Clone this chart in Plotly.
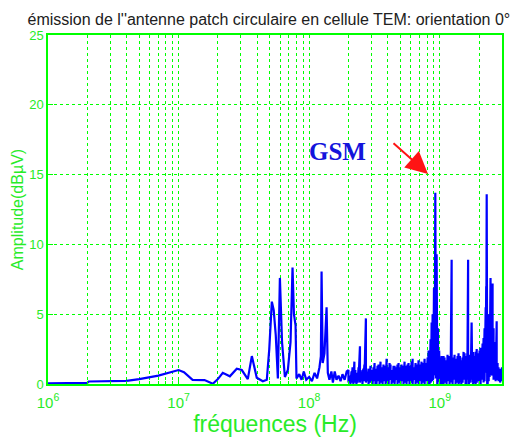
import plotly.graph_objects as go

# Smooth part of the spectrum (1 MHz - 200 MHz): frequency in MHz, amplitude in dBuV
low_freq_mhz = [1.0, 2.0, 2.05, 4.0, 5.0, 7.0, 10.0, 11.0, 12.8, 15.8, 18.3, 20.0, 21.8,
                24.7, 27.9, 30.5, 33.9, 36.4, 39.7, 44.2, 47.4, 49.5, 51.8, 53.5, 55.5,
                57.6, 59.7, 62.0, 65.2, 68.7, 72.0, 74.6, 76.5, 78.7, 80.0, 84.0, 87.5,
                91.0, 95.0, 100.0, 105.0, 110.0, 115.0, 120.0, 123.0, 124.5, 127.0,
                131.0, 136.0, 139.0, 143.0, 148.0, 152.0, 157.0, 162.0, 168.0, 174.0,
                180.0, 187.0, 194.0]
low_amp = [0.05, 0.08, 0.18, 0.22, 0.35, 0.6, 1.0, 0.85, 0.3, 0.28, 0.02, 0.35, 0.8,
           0.55, 1.1, 1.0, 0.35, 2.0, 0.45, 0.2, 0.3, 2.5, 5.9, 5.3, 3.5,
           0.4, 7.6, 3.0, 0.5, 1.0, 3.0, 8.35, 5.0, 4.2, 0.4, 0.7, 0.3,
           0.9, 0.3, 0.5, 0.2, 0.8, 0.4, 1.2, 2.0, 8.05, 1.5,
           2.2, 5.5, 0.8, 0.3, 0.9, 0.1, 0.9, 0.3, 0.6, 0.2,
           0.7, 0.3, 0.9]

# Dense part (200 MHz - 3 GHz): per frequency bin, max and min amplitude
bin_freq_mhz = [200, 204, 207, 211, 215, 218, 222, 226, 230, 235, 239, 245, 250, 256,
                260, 265, 272, 278, 285, 290, 295, 300, 306, 311, 317, 322, 328, 334,
                340, 346, 352, 358, 365, 371, 378, 385, 392, 399, 406, 413, 420, 428,
                435, 443, 451, 459, 467, 475, 484, 492, 501, 510, 519, 528, 538, 547,
                557, 567, 577, 587, 598, 609, 620, 631, 642, 653, 665, 677, 689, 701,
                713, 726, 739, 752, 766, 779, 793, 808, 822, 836, 851, 859, 867, 875,
                882, 893, 904, 915, 925, 936, 947, 958, 970, 980, 990, 1003, 1015,
                1025, 1035, 1044, 1052, 1070, 1089, 1108, 1128, 1148, 1169, 1190,
                1211, 1234, 1254, 1276, 1299, 1322, 1346, 1370, 1394, 1412, 1430,
                1463, 1496, 1523, 1550, 1577, 1605, 1627, 1650, 1675, 1700, 1727,
                1755, 1777, 1800, 1824, 1849, 1884, 1920, 1952, 1984, 2020, 2055,
                2092, 2129, 2167, 2205, 2250, 2270, 2290, 2310, 2330, 2370, 2410,
                2450, 2475, 2500, 2540, 2585, 2630, 2680, 2730, 2775, 2820, 2860,
                2900, 2950, 3000]
bin_max = [1.0, 0.5, 0.6, 0.9, 1.2, 0.7, 1.6, 1.0, 0.8, 0.6, 1.2, 2.7, 0.9, 1.0,
           1.1, 1.4, 4.7, 0.8, 1.1, 0.7, 1.3, 1.0, 0.9, 1.2, 1.5, 0.8, 1.1, 1.3,
           1.4, 0.9, 1.6, 1.2, 1.0, 1.4, 1.3, 1.0, 1.8, 1.1, 1.2, 1.5, 1.4, 0.9,
           1.0, 1.3, 1.3, 1.0, 1.2, 1.4, 1.5, 1.2, 1.1, 1.4, 1.3, 1.0, 1.6, 1.3,
           1.2, 1.4, 1.5, 1.1, 1.3, 1.6, 1.8, 1.2, 1.2, 1.5, 1.4, 1.2, 1.7, 1.4,
           1.3, 1.6, 1.5, 1.3, 1.8, 1.5, 1.4, 1.9, 2.4, 2.0, 3.2, 2.6, 4.4, 3.5,
           5.0, 4.0, 6.9, 5.5, 13.7, 7.0, 9.3, 3.0, 4.0, 2.0, 2.4, 1.7, 1.9,
           1.5, 2.0, 1.8, 1.6, 2.0, 1.9, 1.5, 1.7, 2.1, 2.0, 1.6,
           1.8, 8.9, 1.9, 1.7, 2.1, 1.6, 1.8, 2.0, 2.2, 1.8, 2.0,
           1.7, 1.9, 2.3, 2.2, 1.8, 2.0, 2.2, 8.9, 2.0, 2.1, 1.9,
           4.4, 2.0, 2.3, 1.8, 2.0, 2.3, 2.5, 1.9, 2.2, 2.4, 2.6,
           2.2, 2.9, 3.3, 4.0, 5.5, 7.0, 13.6, 5.0, 3.0, 5.0, 4.0,
           7.6, 4.5, 5.0, 7.2, 4.0, 3.0, 2.2, 4.5, 1.5, 1.2, 1.0,
           1.1, 0.9, 1.2]
bin_min = [0.1, 0.2, 0.0, 0.1, 0.2, 0.0, 0.1, 0.3, 0.0, 0.1, 0.3, 0.1, 0.2, 0.0,
           0.3, 0.2, 0.1, 0.2, 0.0, 0.1, 0.3, 0.1, 0.0, 0.3, 0.2, 0.0, 0.0, 0.2,
           0.3, 0.0, 0.1, 0.2, 0.0, 0.2, 0.4, 0.0, 0.1, 0.2, 0.0, 0.3, 0.3, 0.0,
           0.1, 0.2, 0.0, 0.3, 0.4, 0.0, 0.1, 0.3, 0.0, 0.2, 0.3, 0.0, 0.1, 0.3,
           0.0, 0.2, 0.4, 0.0, 0.1, 0.2, 0.0, 0.3, 0.3, 0.0, 0.1, 0.3, 0.0, 0.2,
           0.4, 0.0, 0.1, 0.3, 0.0, 0.2, 0.3, 0.0, 0.2, 0.0, 0.1, 0.3, 0.5, 0.2,
           0.3, 0.4, 0.8, 0.6, 1.0, 0.4, 0.6, 0.0, 0.2, 0.3, 0.1, 0.0, 0.3,
           0.1, 0.0, 0.2, 0.4, 0.0, 0.1, 0.3, 0.0, 0.2, 0.5, 0.0,
           0.1, 0.2, 0.0, 0.3, 0.4, 0.0, 0.1, 0.3, 0.0, 0.2, 0.5,
           0.0, 0.1, 0.3, 0.3, 0.0, 0.0, 0.4, 0.3, 0.0, 0.1, 0.3,
           0.4, 0.1, 0.0, 0.2, 0.5, 0.0, 0.1, 0.2, 0.3, 0.0, 0.0,
           0.3, 0.4, 0.1, 0.2, 0.8, 1.0, 1.0, 0.0, 0.0, 0.2, 0.5,
           1.0, 0.6, 0.8, 0.6, 0.3, 0.3, 0.2, 0.5, 0.3, 0.2, 0.4,
           0.1, 0.3, 0.2]

# Axis tick labels
major_ticks = [1e6, 1e7, 1e8, 1e9]
major_labels = ["10<sup>6</sup>", "10<sup>7</sup>", "10<sup>8</sup>", "10<sup>9</sup>"]
minor_ticks = [m * 10 ** e for e in range(6, 10) for m in range(2, 10) if m * 10 ** e <= 3e9]

# Assemble the trace: smooth section, then each bin drawn from its max to its min
freq_hz = [f * 1e6 for f in low_freq_mhz]
amp = list(low_amp)
for f, hi, lo in zip(bin_freq_mhz, bin_max, bin_min):
    freq_hz += [f * 1e6, f * 1e6]
    amp += [hi, lo]

GREEN = "rgb(0,255,0)"
TEXT_GREEN = "rgb(40,235,40)"
DASH = "3px,3px"

fig = go.Figure()
fig.add_trace(go.Scatter(x=freq_hz, y=amp, mode="lines",
                         line=dict(color="rgb(0,0,255)", width=2.2),
                         showlegend=False, hoverinfo="skip"))

fig.update_layout(
    width=519, height=444,
    margin=dict(l=48, r=17, t=35, b=55),
    paper_bgcolor="white", plot_bgcolor="white",
    font=dict(family="Liberation Sans, Arial, sans-serif", color=TEXT_GREEN),
    title=dict(text="émission de l''antenne patch circulaire en cellule TEM: orientation 0°",
               x=0.518, xanchor="center", y=0.957, yanchor="middle",
               font=dict(size=16, color="#202020")),
)

fig.update_xaxes(
    type="log", range=[6, 9.477],
    tickvals=major_ticks, ticktext=major_labels,
    tickfont=dict(size=15, color=TEXT_GREEN), ticklabelstandoff=4,
    ticks="inside", ticklen=5, tickcolor=GREEN,
    showline=True, linecolor=GREEN, linewidth=1.5, mirror=True,
    showgrid=True, gridcolor=GREEN, griddash=DASH, gridwidth=1,
    minor=dict(tickvals=minor_ticks, ticks="inside", ticklen=3, tickcolor=GREEN,
               showgrid=True, gridcolor=GREEN, griddash=DASH, gridwidth=1),
    zeroline=False,
    title=dict(text="fréquences (Hz)", font=dict(size=23, color=TEXT_GREEN), standoff=5),
)
fig.update_yaxes(
    range=[0, 25], dtick=5,
    tickfont=dict(size=13, color=TEXT_GREEN),
    ticks="inside", ticklen=5, tickcolor=GREEN,
    showline=True, linecolor=GREEN, linewidth=1.5, mirror=True,
    showgrid=True, gridcolor=GREEN, griddash=DASH, gridwidth=1,
    zeroline=False,
    title=dict(text="Amplitude(dBµV)", font=dict(size=16, color=TEXT_GREEN), standoff=2),
)

# GSM marker text and red arrow pointing at the GSM line
fig.add_annotation(xref="paper", yref="paper", x=0.705, y=0.71,
                   text="<b>GSM</b>", showarrow=False,
                   font=dict(family="Liberation Serif, Times New Roman, serif",
                             size=25, color="rgb(20,20,220)"))
fig.add_annotation(xref="paper", yref="paper", x=0.837, y=0.602,
                   ax=-36, ay=-32, text="", showarrow=True,
                   arrowhead=2, arrowsize=2.2, arrowwidth=2, arrowcolor="rgb(255,20,20)")

fig.write_html("out.html")
